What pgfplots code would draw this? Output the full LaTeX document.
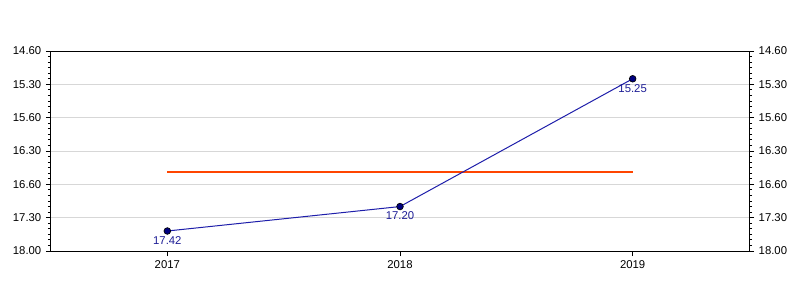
\documentclass[border=0pt]{standalone}
\usepackage{fontspec}
\setmainfont{Liberation Sans}
\usepackage{pgfplots}
\pgfplotsset{compat=1.18}
\definecolor{navy}{RGB}{0,0,128}
\definecolor{lineblue}{RGB}{30,30,170}
\definecolor{labelblue}{RGB}{30,30,150}
\definecolor{meanorange}{RGB}{255,69,0}
\definecolor{gridgray}{RGB}{215,215,215}
\pgfplotsset{
  base/.style={
    scale only axis, width=523.5pt, height=150pt,
    xmin=-0.5, xmax=2.5, ymin=15, ymax=18, y dir=reverse,
    ytick={15,15.5,16,16.5,17,17.5,18},
    yticklabels={14.60,15.30,15.60,16.30,16.60,17.30,18.00},
    minor y tick num=5,
    tick align=outside,
    major tick length=3.75pt, minor tick length=2.25pt,
    tick style={black, line width=0.6pt},
    axis line style={black, line width=0.75pt},
    ticklabel style={font=\fontsize{8.5}{10}\selectfont},
  }
}
\begin{document}
\begin{tikzpicture}
\path[use as bounding box] (-38.25pt,-36.75pt) rectangle (561.75pt,188.25pt);
\begin{axis}[base,
  xtick={0,1,2}, xticklabels={2017,2018,2019},
  xtick pos=left, xticklabel pos=left, ytick pos=left,
  ymajorgrids, grid style={gridgray, line width=0.6pt},
  clip=false,
]
\addplot[meanorange, line width=1.5pt, mark=none] coordinates {(0,16.8167) (2,16.8167)};
\addplot[lineblue, line width=0.75pt, mark=*, mark size=2.5pt,
  mark options={fill=navy, draw=black, line width=0.5pt},
  point meta=explicit symbolic,
  nodes near coords,
  nodes near coords style={anchor=north, yshift=-0.5pt, text=labelblue, font=\fontsize{8.5}{10}\selectfont},
] coordinates {(0,17.7) [17.42] (1,17.3333) [17.20] (2,15.4167) [15.25]};
\end{axis}
\begin{axis}[base,
  axis x line=none,
  ytick pos=right, yticklabel pos=right,
]
\addplot[draw=none] coordinates {(0,16)};
\end{axis}
\end{tikzpicture}
\end{document}
